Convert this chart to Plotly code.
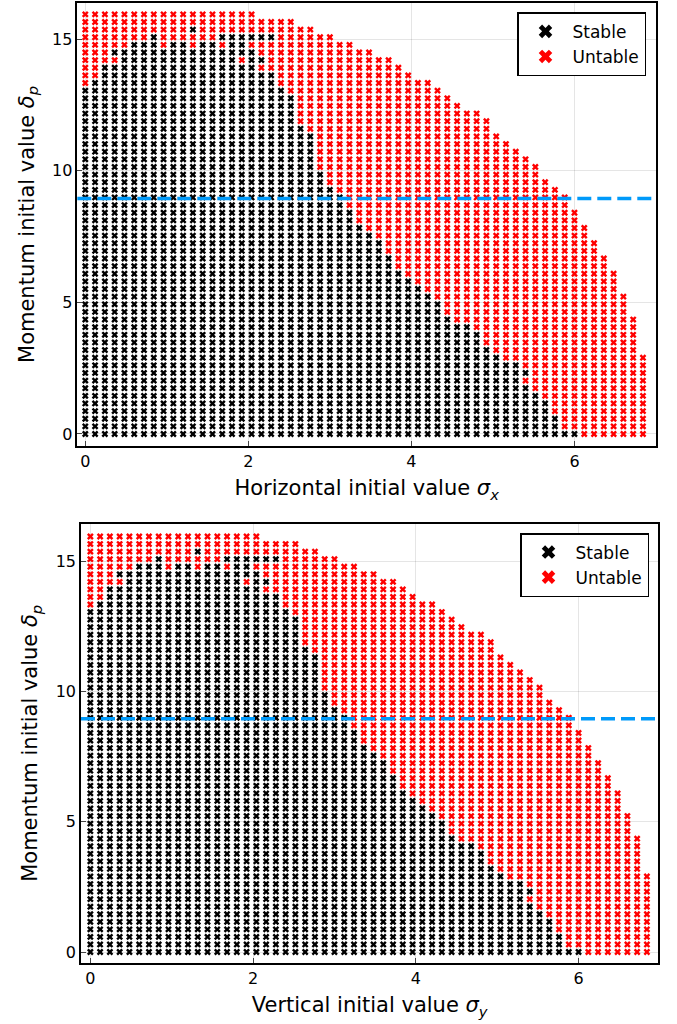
import numpy as np
import plotly.graph_objects as go

# Scan grid: initial transverse amplitude (columns) and momentum offset (rows)
SIGMA_GRID = np.round(np.linspace(0.0, 6.84, 58), 2)
DELTA_GRID = np.round(np.linspace(0.0, 15.95, 56), 3)

# Highest scanned row index for every sigma column (edge of the scanned region)
TOP_ROW = [55] * 18 + [54] * 4 + [53, 53, 52, 52, 51, 51, 50, 50, 49, 49,
                                  48, 47, 46, 46, 45, 44, 43, 42, 42, 41,
                                  39, 38, 37, 36, 35, 33, 32, 31, 29, 27,
                                  25, 23, 21, 18, 15, 10]

# For every delta row: first and last sigma column that survived tracking
STABLE_FIRST = [0] * 46 + [1, 2, 2, 4, 3, 5, 14, 11, 0, 0]
STABLE_LAST = [50, 48, 48, 47, 47, 46, 45, 44, 45, 44,
               42, 41, 40, 40, 39, 37, 36, 36, 35, 34,
               33, 32, 31, 31, 30, 30, 29, 28, 27, 27,
               26, 26, 25, 24, 24, 23, 23, 23, 23, 23,
               22, 21, 21, 21, 21, 20, 19, 19, 17, 18,
               17, 16, 19, 11, -1, -1]

# Isolated lost particles inside the stable band and survivors outside it
LOST_INSIDE = [(8, 51), (11, 51), (14, 51), (16, 49)]
STABLE_OUTSIDE = [(7, 52)]

# Reference momentum offset marked by the dashed line
DELTA_REF = 8.95

PANELS = [
    dict(xlabel="Horizontal initial value <i>σ</i><sub><i>x</i></sub>"),
    dict(xlabel="Vertical initial value <i>σ</i><sub><i>y</i></sub>"),
]


def classify():
    st_x, st_y, un_x, un_y = [], [], [], []
    lost = set(LOST_INSIDE)
    kept = set(STABLE_OUTSIDE)
    for i, top in enumerate(TOP_ROW):
        for j in range(top + 1):
            ok = STABLE_FIRST[j] <= i <= STABLE_LAST[j]
            if (i, j) in lost:
                ok = False
            if (i, j) in kept:
                ok = True
            if ok:
                st_x.append(SIGMA_GRID[i]); st_y.append(DELTA_GRID[j])
            else:
                un_x.append(SIGMA_GRID[i]); un_y.append(DELTA_GRID[j])
    return st_x, st_y, un_x, un_y


st_x, st_y, un_x, un_y = classify()

W, H = 677, 1024
FONT = "DejaVu Sans"

fig = go.Figure()

axes = [("x", "y", "legend"), ("x2", "y2", "legend2")]
for (xa, ya, leg) in axes:
    fig.add_trace(go.Scatter(
        x=st_x, y=st_y, mode="markers", name="Stable",
        marker=dict(symbol="x", size=6, color="black", line=dict(width=0)),
        xaxis=xa, yaxis=ya, legend=leg))
    fig.add_trace(go.Scatter(
        x=un_x, y=un_y, mode="markers", name="Untable",
        marker=dict(symbol="x", size=6, color="#ff0000", line=dict(width=0)),
        xaxis=xa, yaxis=ya, legend=leg))
    fig.add_shape(type="line", xref=f"{xa} domain", yref=ya,
                  x0=0, x1=1, y0=DELTA_REF, y1=DELTA_REF,
                  line=dict(color="#009afa", width=3.5, dash="14px,6px"))

# Plot frames in pixel coordinates: (left, right, top, bottom)
frames = [(77.3, 656.0, 3.3, 445.7), (81.0, 658.3, 524.0, 962.7)]
xranges = [[-0.098, 7.0], [-0.115, 6.98]]
yranges = [[-0.445, 16.37], [-0.41, 16.43]]

common_axis = dict(
    showgrid=True, gridcolor="rgba(0,0,0,0.1)", gridwidth=1,
    showline=True, linecolor="black", linewidth=1.5, mirror=True,
    ticks="inside", ticklen=5, tickwidth=1, tickcolor="rgba(0,0,0,0.7)",
    zeroline=False, tickfont=dict(family=FONT, size=16, color="black"),
)

layout = dict(
    width=W, height=H, autosize=False,
    margin=dict(l=0, r=0, t=0, b=0),
    paper_bgcolor="white", plot_bgcolor="white",
    font=dict(family=FONT, color="black"),
)
for k, (fr, xr, yr, panel) in enumerate(zip(frames, xranges, yranges, PANELS)):
    sfx = "" if k == 0 else str(k + 1)
    l, r, t, b = fr
    layout["xaxis" + sfx] = dict(
        common_axis, domain=[l / W, r / W], range=xr, anchor="y" + sfx,
        tickvals=[0, 2, 4, 6],
        title=dict(text=panel["xlabel"], font=dict(family=FONT, size=21), standoff=11),
    )
    layout["yaxis" + sfx] = dict(
        common_axis, domain=[1 - b / H, 1 - t / H], range=yr, anchor="x" + sfx,
        tickvals=[0, 5, 10, 15],
        title=dict(text="Momentum initial value <i>δ</i><sub><i>p</i></sub>",
                   font=dict(family=FONT, size=21), standoff=12),
    )

legend_style = dict(
    xanchor="left", yanchor="top", bgcolor="white",
    bordercolor="black", borderwidth=1.5,
    font=dict(family=FONT, size=17, color="black"),
    itemsizing="constant", itemwidth=44,
)
layout["legend"] = dict(legend_style, x=517 / W, y=1 - 12.3 / H)
layout["legend2"] = dict(legend_style, x=520 / W, y=1 - 533 / H)

fig.update_layout(**layout)
fig.write_html("out.html")
